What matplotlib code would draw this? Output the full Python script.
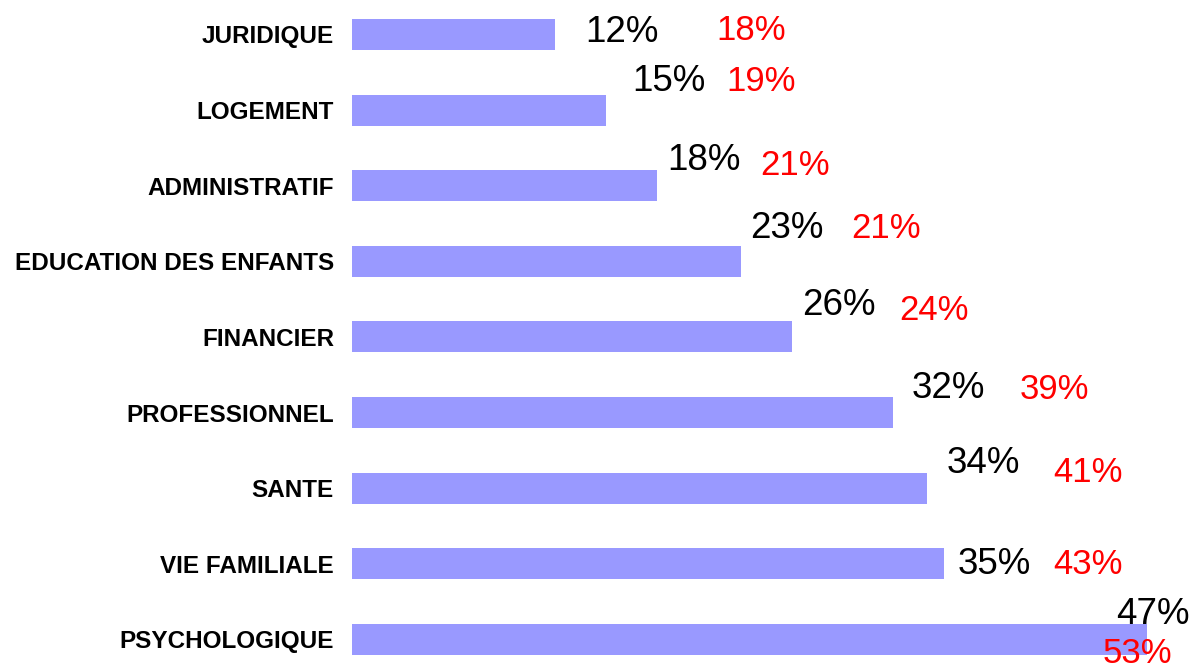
import matplotlib
matplotlib.use("Agg")
import matplotlib.pyplot as plt

plt.rcParams['font.family'] = ['Liberation Sans', 'DejaVu Sans']

# Donnees (de haut en bas)
categories = ["JURIDIQUE", "LOGEMENT", "ADMINISTRATIF", "EDUCATION DES ENFANTS",
              "FINANCIER", "PROFESSIONNEL", "SANTE", "VIE FAMILIALE", "PSYCHOLOGIQUE"]
values_now = [12, 15, 18, 23, 26, 32, 34, 35, 47]
values_prev = [18, 19, 21, 21, 24, 39, 41, 43, 53]

# decalage des etiquettes (pixels depuis le bout de la barre, y vers le haut)
black_dx = [30, 26, 11, 9, 10, 18, 19, 13, -31]
black_dy = [-7.5, 19, 16, 23, 22, 14.5, 15, -10, 15]
red_dx = [161, 121, 104, 110, 107, 126, 126, 109, -45]
red_dy = [-5.5, 19, 11, 23, 17, 13.5, 6, -10, -24]

fig = plt.figure(figsize=(11.93, 6.64), dpi=100)
ax = fig.add_axes([352 / 1193, 0, 841 / 1193, 1])

ypos = list(range(len(categories)))
ax.barh(ypos, values_now, height=0.41, color='#9999FF', zorder=2)

for i, v in enumerate(values_now):
    ax.annotate(f"{v}%", xy=(v, i), xytext=(black_dx[i], black_dy[i]),
                textcoords='offset pixels', ha='left', va='baseline',
                fontsize=26.5, color='black', zorder=3)
    ax.annotate(f"{values_prev[i]}%", xy=(v, i), xytext=(red_dx[i], red_dy[i]),
                textcoords='offset pixels', ha='left', va='baseline',
                fontsize=25, color='#FF0000', zorder=3)

ax.set_xlim(0, 841 / 16.92)
ax.set_ylim(8.324, -0.456)
ax.set_yticks(ypos)
ax.set_yticklabels(categories, fontsize=17.5, fontweight='bold')
ax.tick_params(axis='y', length=0, pad=13)
ax.set_xticks([])
for s in ax.spines.values():
    s.set_visible(False)

plt.savefig('out.png', dpi=100)
